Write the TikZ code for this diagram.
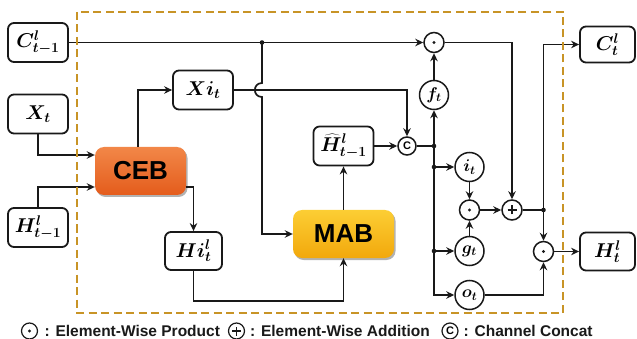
\RequirePackage{fix-cm}
\documentclass[tikz,border=0pt]{standalone}
\usepackage{bm}
\usepackage{fontspec}
\newfontfamily\lsans{Liberation Sans}
\usetikzlibrary{arrows.meta,shadows,calc}
\definecolor{dashc}{RGB}{200,148,38}
\definecolor{cebtop}{RGB}{242,135,72}
\definecolor{cebbot}{RGB}{228,92,28}
\definecolor{mabtop}{RGB}{252,206,52}
\definecolor{mabbot}{RGB}{242,168,12}
\definecolor{ink}{RGB}{25,25,25}
\tikzset{
  mbox/.style={draw=ink, line width=1.8pt, rounded corners=6pt, minimum width=60pt,
    minimum height=39pt, inner sep=0pt, fill=white, font=\fontsize{20}{24}\selectfont},
  circ/.style={circle, draw=ink, line width=1.5pt, minimum size=29pt, inner sep=0pt,
    fill=white, font=\fontsize{17}{20}\selectfont},
  op/.style={circle, draw=ink, line width=1.5pt, minimum size=20pt, inner sep=0pt, fill=white},
  prodc/.style={op, path picture={\fill[ink] (path picture bounding box.center) circle[radius=1.7pt];}},
  plusc/.style={op, path picture={
    \draw[ink, line width=1.5pt] ([xshift=-4.5pt]path picture bounding box.center) -- ([xshift=4.5pt]path picture bounding box.center);
    \draw[ink, line width=1.5pt] ([yshift=-4.5pt]path picture bounding box.center) -- ([yshift=4.5pt]path picture bounding box.center);}},
  blockbox/.style={rounded corners=9pt, inner sep=0pt, text=black,
    font=\lsans\bfseries\fontsize{26}{30}\selectfont,
    drop shadow={shadow xshift=1.5pt, shadow yshift=-2pt, opacity=0.3, fill=black}},
  arr/.style={draw=ink, line width=1.7pt, -{Stealth[length=8pt,width=7.5pt]}},
  ln/.style={draw=ink, line width=1.7pt},
  legtext/.style={anchor=west, inner sep=0pt, text=ink, font=\lsans\bfseries\fontsize{15.5}{18}\selectfont}
}
\begin{document}
\begin{tikzpicture}[x=1pt,y=-1pt]
\useasboundingbox (0,0) rectangle (637,339);

% nodes
\node[mbox] (cprev) at (38,42.5) {$\bm{C^{l}_{t-1}}$};
\node[mbox] (xt) at (38,114) {$\bm{X_{t}}$};
\node[mbox] (hprev) at (38,227.5) {$\bm{H^{l}_{t-1}}$};
\node[blockbox, minimum width=91pt, minimum height=48pt, top color=cebtop, bottom color=cebbot] (ceb) at (140.5,171) {CEB};
\node[mbox] (xi) at (203,90) {$\bm{Xi_{t}}$};
\node[mbox, minimum width=57pt, minimum height=38pt] (hi) at (193.5,251) {$\bm{Hi^{l}_{t}}$};
\node[blockbox, minimum width=101pt, minimum height=48pt, top color=mabtop, bottom color=mabbot] (mab) at (343.5,234) {MAB};
\node[mbox] (hhat) at (343.5,146) {$\bm{\widehat{H}^{l}_{t-1}}$};
\node[op, minimum size=18pt, font=\lsans\bfseries\fontsize{11}{12}\selectfont] (cat) at (407,146) {C};
\node[circ] (ft) at (434,95) {$\bm{f_{t}}$};
\node[prodc] (p1) at (434,42.5) {};
\node[circ] (it) at (469.5,167) {$\bm{i_{t}}$};
\node[prodc] (p2) at (469.5,210) {};
\node[circ] (gt) at (469.5,251) {$\bm{g_{t}}$};
\node[circ] (ot) at (469.5,295) {$\bm{o_{t}}$};
\node[plusc] (pl) at (512,210) {};
\node[prodc] (p3) at (543.5,251.5) {};
\node[mbox, minimum width=55pt, minimum height=36pt] (ct) at (607.5,44.5) {$\bm{C^{l}_{t}}$};
\node[mbox, minimum width=55pt, minimum height=38pt] (ht) at (607.5,251.5) {$\bm{H^{l}_{t}}$};

% helper coordinates
\coordinate (j1) at (262,42.5);
\coordinate (yx) at (0,155);
\coordinate (yh) at (0,187);
\coordinate (j2) at (434,146);
\coordinate (j3) at (434,167);
\coordinate (jg) at (434,251);
\coordinate (j4) at (543.5,210);

% connectors
\draw[arr] (cprev.east) -- (p1.west);
\draw[arr] (xt.south) |- (ceb.west |- yx);
\draw[arr] (hprev.north) |- (ceb.west |- yh);
\draw[arr] ([xshift=-2.5pt]ceb.north) |- (xi.west);
\draw[arr] (ceb.east |- yh) -| (hi.north);
\draw[arr] (hi.south) -- ++(0,30) -| (mab.south);
\draw[arr] (j1) -- (262,83) .. controls (252.5,83) and (252.5,97) .. (262,97) |- (mab.west);
\draw[arr] (xi.east) -| (cat.north);
\draw[arr] (hhat.east) -- (cat.west);
\draw[arr] (mab.north) -- (hhat.south);
\draw[ln] (cat.east) -- (j2) -- (j3);
\draw[arr] (j2) -- (ft.south);
\draw[arr] (ft.north) -- (p1.south);
\draw[arr] (j3) -- (it.west);
\draw[arr] (jg) -- (gt.west);
\draw[arr] (j3) -- (jg) |- (ot.west);
\draw[arr] (it.south) -- (p2.north);
\draw[arr] (gt.north) -- (p2.south);
\draw[arr] (p2.east) -- (pl.west);
\draw[arr] (p1.east) -| (pl.north);
\draw[ln] (pl.east) -- (j4);
\draw[arr] (j4) -- (p3.north);
\draw[arr] (j4) |- (ct.west);
\draw[arr] (ot.east) -| (p3.south);
\draw[arr] (p3.east) -- (ht.west);

% junction dots
\foreach \p in {j1,j2,j3,jg,j4} \fill[ink] (\p) circle[radius=2.3pt];

% dashed frame
\draw[dashc, line width=2.6pt, dash pattern=on 8pt off 4.5pt] (77,12) rectangle (563,313);

% legend
\node[prodc, minimum size=16pt, line width=1.2pt] (lg1) at (29.5,331) {};
\node[legtext] (lt1) at (44.5,331) {: Element-Wise Product};
\node[plusc, minimum size=16pt, line width=1.2pt] (lg2) at (236.5,331) {};
\node[legtext] (lt2) at (250,331) {: Element-Wise Addition};
\node[op, minimum size=16pt, line width=1.2pt, font=\lsans\bfseries\fontsize{11}{12}\selectfont] (lg3) at (450,331) {C};
\node[legtext] (lt3) at (463.5,331) {: Channel Concat};
\end{tikzpicture}
\end{document}
